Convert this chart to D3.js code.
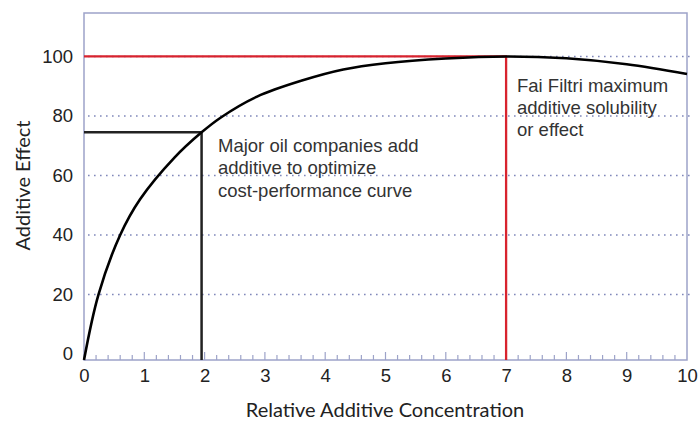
<!DOCTYPE html>
<html>
<head>
<meta charset="utf-8">
<script src="https://cdn.jsdelivr.net/npm/d3@7"></script>
<style>
    body { margin: 0; background: #fff; }
    svg { display: block; }
</style>
</head>
<body>
<div id="chart"></div>
<script>
// data
const concentration = [0, 0.24, 0.6, 0.93, 1.5, 1.95, 2.27, 2.87, 3.6, 4.3, 5.0, 6.0, 7.0, 8.0, 9.0, 10];
const effect = [-2, 20, 40, 52, 66, 74.5, 79.5, 86.5, 91.8, 95.6, 97.7, 99.3, 100, 99.4, 97.4, 94.1];
const xTickLabels = [0, 1, 2, 3, 4, 5, 6, 7, 8, 9, 10];
const yTickLabels = [0, 20, 40, 60, 80, 100];
const optimum = [1.95, 74.5];
const maximum = [7, 100];
const optimumNote = ["Major oil companies add", "additive to optimize", "cost-performance curve"];
const maximumNote = ["Fai Filtri maximum", "additive solubility", "or effect"];

const width = 698, height = 424;
const margin = { top: 13, right: 11, bottom: 64, left: 84 };

const svg = d3.select("#chart")
    .append("svg")
    .attr("width", width)
    .attr("height", height);

const x = d3.scaleLinear().domain([0, 10]).range([margin.left, width - margin.right]);
const y = d3.scaleLinear().domain([-2, 114.6]).range([height - margin.bottom, margin.top]);

const frameColor = "#9da3c9";
const gridColor = "#8088ba";
const bottom = height - margin.bottom;
const labelFont = "Liberation Sans, Arial, sans-serif";

// grid lines
svg.append("g")
    .selectAll("line")
    .data(yTickLabels.filter(d => d > 0))
    .enter()
    .append("line")
    .attr("x1", x(0) + 4)
    .attr("x2", x(10) + 3)
    .attr("y1", d => y(d))
    .attr("y2", d => y(d))
    .attr("stroke", gridColor)
    .attr("stroke-width", 1.4)
    .attr("stroke-dasharray", "1.6,4.4");

// frame
svg.append("rect")
    .attr("x", x(0))
    .attr("y", margin.top)
    .attr("width", x(10) - x(0))
    .attr("height", bottom - margin.top)
    .attr("fill", "none")
    .attr("stroke", frameColor)
    .attr("stroke-width", 1.5);

// ticks along bottom (inside)
svg.append("g")
    .selectAll("line")
    .data(d3.range(1, 50))
    .enter()
    .append("line")
    .attr("x1", d => x(d / 5))
    .attr("x2", d => x(d / 5))
    .attr("y1", bottom)
    .attr("y2", d => d % 5 === 0 ? bottom - 8 : bottom - 5)
    .attr("stroke", frameColor)
    .attr("stroke-width", 1.2);

// x axis labels
const xAxis = svg.append("g")
    .attr("transform", `translate(0, ${bottom})`)
    .call(d3.axisBottom(x).tickValues(xTickLabels).tickSize(0).tickPadding(9).tickFormat(d3.format("d")));
xAxis.select(".domain").remove();
xAxis.selectAll("text")
    .attr("font-family", labelFont)
    .attr("font-size", 18.5)
    .attr("fill", "#222");

// y axis labels
const yAxis = svg.append("g")
    .attr("transform", `translate(${margin.left}, 0)`)
    .call(d3.axisLeft(y).tickValues(yTickLabels).tickSize(0).tickPadding(11));
yAxis.select(".domain").remove();
yAxis.selectAll("text")
    .attr("font-family", labelFont)
    .attr("font-size", 18.5)
    .attr("fill", "#222");

// optimum guide (black)
svg.append("path")
    .attr("d", `M${x(0)},${y(optimum[1])}H${x(optimum[0])}V${bottom}`)
    .attr("fill", "none")
    .attr("stroke", "#222")
    .attr("stroke-width", 2.5);

// maximum guide (red)
svg.append("path")
    .attr("d", `M${x(0)},${y(maximum[1])}H${x(maximum[0])}V${bottom}`)
    .attr("fill", "none")
    .attr("stroke", "#d8232e")
    .attr("stroke-width", 2.3);

// effect curve
const line = d3.line()
    .x(d => x(d[0]))
    .y(d => y(d[1]))
    .curve(d3.curveCatmullRom.alpha(0.5));

svg.append("path")
    .datum(concentration.map((c, i) => [c, effect[i]]))
    .attr("fill", "none")
    .attr("stroke", "#000")
    .attr("stroke-width", 2.6)
    .attr("d", line);

// annotations
function note(lines, px, py, lh) {
    svg.append("text")
        .attr("font-family", labelFont)
        .attr("font-size", 18.5)
        .attr("fill", "#333")
        .selectAll("tspan")
        .data(lines)
        .enter()
        .append("tspan")
        .attr("x", px)
        .attr("y", (d, i) => py + i * lh)
        .text(d => d);
}
note(optimumNote, 218, 151.5, 22.6);
note(maximumNote, 517, 91.7, 22.2);

// axis titles
svg.append("text")
    .attr("x", 385)
    .attr("y", 417)
    .attr("text-anchor", "middle")
    .attr("font-family", "Lato, sans-serif")
    .attr("font-size", 20)
    .attr("fill", "#222")
    .text("Relative Additive Concentration");

svg.append("text")
    .attr("transform", "translate(30, 185.5) rotate(-90)")
    .attr("text-anchor", "middle")
    .attr("font-family", "Lato, sans-serif")
    .attr("font-size", 20)
    .attr("fill", "#222")
    .text("Additive Effect");
</script>
</body>
</html>
